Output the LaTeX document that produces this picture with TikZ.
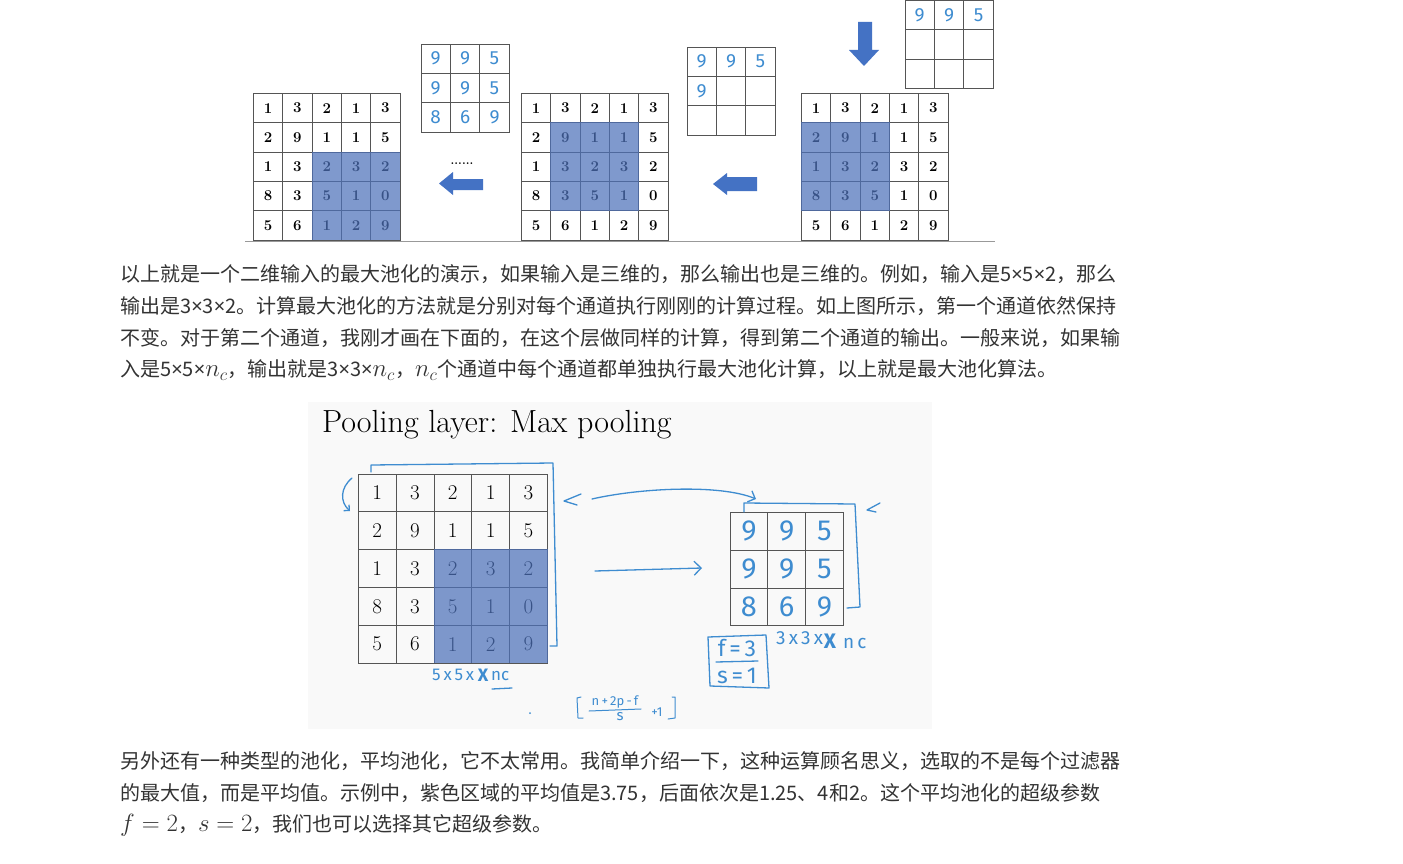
\documentclass[tikz,border=0pt]{standalone}
\usepackage{amsmath}
\usepackage{fontspec}
\newfontfamily\cjk{Noto Sans CJK SC}
\newfontfamily\latin{Noto Sans}
\newfontfamily\handfont{Fira Sans}
\usetikzlibrary{arrows.meta,positioning}
\definecolor{hlblue}{RGB}{78,114,186}
\definecolor{arrowblue}{RGB}{68,114,196}
\definecolor{handblue}{RGB}{62,140,208}
\definecolor{gridgray}{RGB}{85,85,85}
\definecolor{bodytext}{RGB}{51,51,51}
\definecolor{framebg}{RGB}{249,249,249}
% grid of numbered cells: name, left, top, cell size, cell style, rows
\newcommand{\numgrid}[6]{%
  \foreach \gridrow [count=\r] in {#6}{
    \foreach \v [count=\c] in \gridrow{
      \node[#5, minimum size=#4pt] (#1-\r-\c)
        at ({#2+(\c-0.5)*#4},{#3+(\r-0.5)*#4}) {\v};
    }
  }
}
\newcommand{\bodyline}[2]{\node[bodyline] at (120,#1) {#2};}
\newcommand{\by}{{\latin ×}}
\newcommand{\mth}[1]{{\fontsize{23.5}{32}\selectfont$#1$}}

\begin{document}
\begin{tikzpicture}[x=1pt, y=-1pt,
    cell/.style={draw=gridgray, line width=0.8pt, inner sep=0pt, font=\bfseries\fontsize{15}{15}\selectfont},
    bigcell/.style={cell, font=\fontsize{21}{21}\selectfont},
    handcell/.style={draw=gridgray, line width=0.8pt, inner sep=0pt, text=handblue, font=\handfont\fontsize{19}{19}\selectfont},
    bighandcell/.style={handcell, font=\handfont\fontsize{29}{29}\selectfont},
    overlay box/.style={fill=hlblue, fill opacity=0.72},
    blockarrow/.style={fill=arrowblue},
    hand/.style={draw=handblue, line width=1.3pt, line cap=round, line join=round},
    handtext/.style={text=handblue, inner sep=0pt, font=\handfont\fontsize{17}{17}\selectfont},
    bodyline/.style={anchor=west, inner sep=0pt, text=bodytext, font=\cjk\fontsize{20}{32}\selectfont}]
  \useasboundingbox (0,0) rectangle (1403,864);
  \fill[white] (0,0) rectangle (1403,864);

  % ---- top figure: three steps of max pooling ----
  \numgrid{A}{253.5}{93.5}{29.3}{cell}{{1,3,2,1,3},{2,9,1,1,5},{1,3,2,3,2},{8,3,5,1,0},{5,6,1,2,9}}
  \fill[overlay box] (A-3-3.north west) rectangle (A-5-5.south east);
  \numgrid{B}{521.5}{93.5}{29.3}{cell}{{1,3,2,1,3},{2,9,1,1,5},{1,3,2,3,2},{8,3,5,1,0},{5,6,1,2,9}}
  \fill[overlay box] (B-2-2.north west) rectangle (B-4-4.south east);
  \numgrid{C}{801.5}{93.5}{29.3}{cell}{{1,3,2,1,3},{2,9,1,1,5},{1,3,2,3,2},{8,3,5,1,0},{5,6,1,2,9}}
  \fill[overlay box] (C-2-1.north west) rectangle (C-4-3.south east);

  \numgrid{D}{421}{44}{29.4}{handcell}{{9,9,5},{9,9,5},{8,6,9}}
  \numgrid{E}{687}{47}{29.4}{handcell}{{9,9,5},{9,{},{}},{{},{},{}}}
  \numgrid{F}{905}{0.5}{29.4}{handcell}{{9,9,5},{{},{},{}},{{},{},{}}}

  \fill[blockarrow] (439,183.5) -- (453,172) -- (453,179) -- (483,179)
    -- (483,190) -- (453,190) -- (453,195) -- cycle;
  \node[font=\bfseries\fontsize{12}{12}\selectfont, inner sep=0pt] (dots) at (462,164) {......};
  \fill[blockarrow] (713,184) -- (727,173) -- (727,177) -- (757,177)
    -- (757,191) -- (727,191) -- (727,195) -- cycle;
  \fill[blockarrow] (858,22) -- (872,22) -- (872,50) -- (879,50)
    -- (864,66) -- (849,50) -- (858,50) -- cycle;
  \draw[gray!80, line width=1pt] (245,241) -- (995,241);

  % ---- body text ----
  \bodyline{274}{以上就是一个二维输入的最大池化的演示，如果输入是三维的，那么输出也是三维的。例如，输入是5\by5\by2，那么}
  \bodyline{306}{输出是3\by3\by2。计算最大池化的方法就是分别对每个通道执行刚刚的计算过程。如上图所示，第一个通道依然保持}
  \bodyline{338}{不变。对于第二个通道，我刚才画在下面的，在这个层做同样的计算，得到第二个通道的输出。一般来说，如果输}
  \bodyline{370}{入是5\by5\by\mth{n_c}，输出就是3\by3\by\mth{n_c}，\mth{n_c}个通道中每个通道都单独执行最大池化计算，以上就是最大池化算法。}

  % ---- lecture frame ----
  \fill[framebg] (308,402) rectangle (932,729);
  \node[anchor=west, inner sep=0pt, font=\fontsize{32}{34}\selectfont] (title) at (322,425) {Pooling layer: Max pooling};
  \numgrid{G}{358.3}{474}{37.8}{bigcell}{{1,3,2,1,3},{2,9,1,1,5},{1,3,2,3,2},{8,3,5,1,0},{5,6,1,2,9}}
  \fill[overlay box] (G-3-3.north west) rectangle (G-5-5.south east);
  \numgrid{H}{730}{512.3}{37.8}{bighandcell}{{9,9,5},{9,9,5},{8,6,9}}

  % handwriting
  \draw[hand] (371,472) -- (371,465) -- (553,463) -- (557,646) -- (550,646);
  \draw[hand, -{Straight Barb[length=4pt]}] (352,478) .. controls (340,488) and (340,502) .. (350,511);
  \draw[hand] (581,494) -- (564,501) -- (577,505);
  \draw[hand, -{Straight Barb[length=6pt]}] (592,499) .. controls (640,488) and (720,484) .. (756,499);
  \draw[hand, -{Straight Barb[length=7pt]}] (595,571) -- (702,568);
  \draw[hand] (744,512) -- (744,503) -- (855,504) -- (860,607) -- (847,608);
  \draw[hand] (880,503) -- (867,510) -- (876,512);

  \draw[hand] (708,637) -- (766,635) -- (769,688) -- (710,686) -- cycle;
  \node[handtext, font=\handfont\fontsize{23}{23}\selectfont] (feq) at (737,648) {f\,=\,3};
  \draw[hand] (716,662) -- (758,661);
  \node[handtext, font=\handfont\fontsize{23}{23}\selectfont] (seq) at (737,676) {s\,=\,1};

  \node[handtext, anchor=west, font=\handfont\fontsize{19}{19}\selectfont] (outdim) at (776,638) {3\,x\,3\,x};
  \node[handtext, font=\handfont\bfseries\fontsize{21}{21}\selectfont] (outx) at (830,641) {X};
  \node[handtext, anchor=west, font=\handfont\fontsize{19}{19}\selectfont] (outnc) at (843,643) {n\,c};

  \node[handtext, anchor=west] (indim) at (432,675) {5\,x\,5\,x};
  \node[handtext, font=\handfont\bfseries\fontsize{18}{18}\selectfont] (inx) at (483,675) {X};
  \node[handtext, anchor=west] (innc) at (491,676) {nc};
  \draw[hand] (492,689) -- (512,688);

  \fill[handblue] (530,713) circle (1pt);
  \draw[hand, line width=1pt] (581,697) -- (577,698) -- (578,718) -- (583,718);
  \node[handtext, font=\handfont\fontsize{13}{13}\selectfont] (numer) at (615,702) {n\,+\,2p\,-\,f};
  \draw[hand, line width=1pt] (589,711) -- (641,709);
  \node[handtext, font=\handfont\fontsize{15}{15}\selectfont] (denom) at (620,717) {s};
  \node[handtext, font=\handfont\fontsize{13}{13}\selectfont] (plusone) at (657,712) {+1};
  \draw[hand, line width=1pt] (672,697) -- (675,697) -- (675,718) -- (668,719);

  % ---- body text ----
  \bodyline{761}{另外还有一种类型的池化，平均池化，它不太常用。我简单介绍一下，这种运算顾名思义，选取的不是每个过滤器}
  \bodyline{793}{的最大值，而是平均值。示例中，紫色区域的平均值是3.75，后面依次是1.25、4和2。这个平均池化的超级参数}
  \bodyline{825}{\mth{f=2}，\mth{s=2}，我们也可以选择其它超级参数。}
\end{tikzpicture}
\end{document}
